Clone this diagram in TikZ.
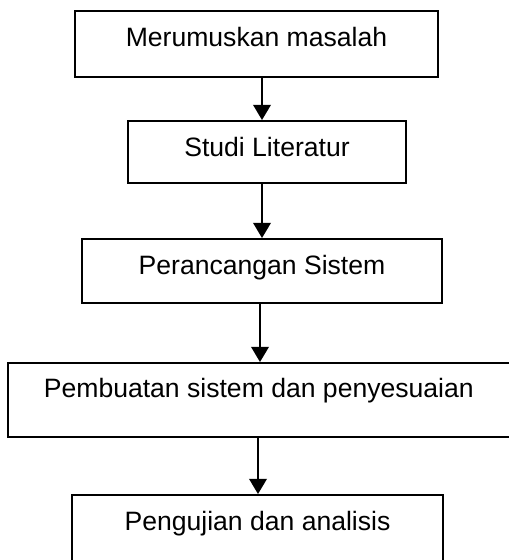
\documentclass[tikz,border=0pt]{standalone}
\usepackage{fontspec}
\setmainfont{Liberation Sans}
\usepackage{tikz}
\usetikzlibrary{arrows.meta, positioning}

\begin{document}
\begin{tikzpicture}[
  box/.style={draw,line width=1.4pt,inner sep=0pt,anchor=north,text height=0.9cm,
              font=\fontsize{18.9pt}{22pt}\selectfont,align=center},
  arr/.style={-{Triangle[length=0.38cm,width=0.44cm]},line width=1.4pt}
]
\useasboundingbox (0,0) rectangle (12.7,-14);

% Boxes
\node[box,minimum width=9.075cm,text depth=0.75cm] (rumusan)
  at (6.4125,-0.25) {Merumuskan masalah};
\node[box,minimum width=6.95cm,text depth=0.65cm] (studi)
  at (6.675,-3.0) {Studi Literatur};
\node[box,minimum width=9.0cm,text depth=0.7cm] (rancang)
  at (6.55,-5.95) {Perancangan Sistem};
\node[box,minimum width=12.54cm,text height=0.875cm,text depth=0.975cm] (buat)
  at (6.47,-9.05) {Pembuatan sistem dan penyesuaian};
\node[box,minimum width=9.275cm,text depth=1.0cm] (uji)
  at (6.4375,-12.35) {Pengujian dan analisis};

% Arrows
\draw[arr] ([xshift=0.1375cm]rumusan.south) -- ([xshift=-0.125cm]studi.north);
\draw[arr] ([xshift=-0.125cm]studi.south) -- (rancang.north);
\draw[arr] ([xshift=-0.05cm]rancang.south) -- ([xshift=0.03cm]buat.north);
\draw[arr] ([xshift=-0.02cm]buat.south) -- ([xshift=0.0125cm]uji.north);

\end{tikzpicture}
\end{document}
